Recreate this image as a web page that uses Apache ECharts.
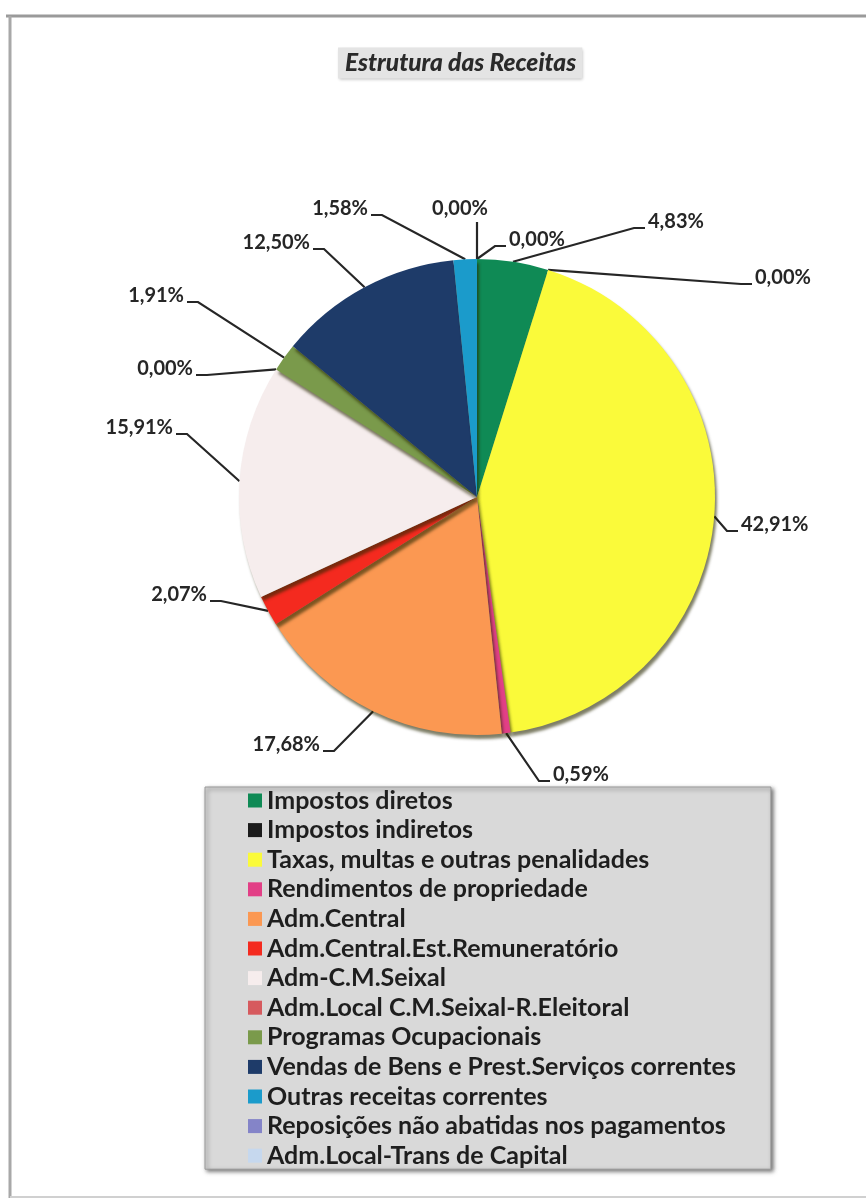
<!DOCTYPE html>
<html>
<head>
<meta charset="utf-8">
<script src="https://cdn.jsdelivr.net/npm/echarts@6/dist/echarts.min.js"></script>
<style>
  html, body { margin: 0; padding: 0; background: #ffffff; }
  #chart { width: 866px; height: 1200px; }
</style>
</head>
<body>
<div id="chart"></div>
<script>
// ---- data ----
const categories = [
  'Impostos diretos',
  'Impostos indiretos',
  'Taxas, multas e outras penalidades',
  'Rendimentos de propriedade',
  'Adm.Central',
  'Adm.Central.Est.Remuneratório',
  'Adm-C.M.Seixal',
  'Adm.Local C.M.Seixal-R.Eleitoral',
  'Programas Ocupacionais',
  'Vendas de Bens e Prest.Serviços correntes',
  'Outras receitas correntes',
  'Reposições não abatidas nos pagamentos',
  'Adm.Local-Trans de Capital'
];
const shares = [4.83, 0.00, 42.91, 0.59, 17.68, 2.07, 15.91, 0.00, 1.91, 12.50, 1.58, 0.00, 0.00];
const sliceColors = [
  '#0f8a55', '#1b1b1b', '#fafa3a', '#e23f86', '#fb9852', '#f42a1f', '#f6eded',
  '#d65a5e', '#7a9a4b', '#1e3b69', '#1b9bcb', '#8484c8', '#c6d8ee'
];
// label placement (layout only): [x, y, align]
const labelAnchors = [
  [648, 222, 'left'],
  [755, 278, 'left'],
  [741, 525, 'left'],
  [553, 775, 'left'],
  [320, 745, 'right'],
  [207, 595, 'right'],
  [173, 428, 'right'],
  [193, 369, 'right'],
  [184, 296, 'right'],
  [310, 243, 'right'],
  [368, 209, 'right'],
  [460, 209, 'center'],
  [509, 240, 'left']
];

const chart = echarts.init(document.getElementById('chart'), null, { renderer: 'canvas' });

const pieData = categories.map((c, i) => ({
  name: c,
  value: shares[i],
  itemStyle: { color: sliceColors[i] }
}));

const option = {
  animation: false,
  backgroundColor: '#ffffff',
  title: {
    text: 'Estrutura das Receitas',
    left: 338,
    top: 48,
    padding: [3, 6, 3, 7],
    backgroundColor: '#e4e4e4',
    shadowColor: 'rgba(0,0,0,0.25)',
    shadowBlur: 3,
    shadowOffsetX: 1,
    shadowOffsetY: 1,
    textStyle: {
      fontFamily: 'Lato',
      fontStyle: 'italic',
      fontWeight: 900,
      fontSize: 24.5,
      lineHeight: 24,
      color: '#2a2a2a'
    }
  },
  graphic: [
    { type: 'line', shape: { x1: 6, y1: 16, x2: 866, y2: 16 }, style: { stroke: '#9a9a9a', lineWidth: 3 } },
    { type: 'line', shape: { x1: 10, y1: 16, x2: 10, y2: 1198 }, style: { stroke: '#a8a8a8', lineWidth: 3 } },
    { type: 'line', shape: { x1: 10, y1: 1197, x2: 866, y2: 1197 }, style: { stroke: '#d0d0d0', lineWidth: 2 } }
  ],
  legend: {
    orient: 'vertical',
    left: 205,
    top: 787,
    padding: [1, 35, 1, 43],
    itemWidth: 14,
    itemHeight: 14,
    itemGap: 4.6,
    icon: 'rect',
    backgroundColor: '#d9d9d9',
    borderColor: '#9a9a9a',
    borderWidth: 1,
    shadowColor: 'rgba(0,0,0,0.55)',
    shadowBlur: 4,
    shadowOffsetX: 2,
    shadowOffsetY: 2,
    selectedMode: false,
    data: categories,
    textStyle: {
      fontFamily: 'Lato',
      fontWeight: 'bold',
      fontSize: 25,
      color: '#1e1e1e'
    }
  },
  series: [{
    type: 'pie',
    center: [477, 497],
    radius: 238,
    startAngle: 90,
    clockwise: true,
    avoidLabelOverlap: false,
    data: pieData,
    itemStyle: {
      borderWidth: 0,
      shadowColor: 'rgba(40,40,0,0.6)',
      shadowBlur: 3,
      shadowOffsetX: 2,
      shadowOffsetY: 4
    },
    label: {
      show: true,
      position: 'outside',
      formatter: p => p.value.toFixed(2).replace('.', ',') + '%',
      fontFamily: 'Lato',
      fontWeight: 'bold',
      fontSize: 20,
      color: '#262626'
    },
    labelLine: {
      show: true,
      length: 20,
      length2: 10,
      lineStyle: { color: '#262626', width: 2.2 }
    },
    emphasis: { disabled: true },
    labelLayout: function (params) {
      const a = labelAnchors[params.dataIndex];
      const x = a[0], y = a[1], align = a[2];
      const pts = params.labelLinePoints;
      const p0 = pts && pts[0] ? pts[0] : [x, y];
      let line;
      if (align === 'left') {
        line = [p0, [x - 14, y + 6], [x - 3, y + 6]];
      } else if (align === 'right') {
        line = [p0, [x + 14, y + 6], [x + 3, y + 6]];
      } else {
        line = [p0, [p0[0], y + 13]];
      }
      return {
        x: x,
        y: y,
        align: align,
        verticalAlign: 'middle',
        labelLinePoints: line
      };
    }
  }]
};

chart.setOption(option);
</script>
</body>
</html>
